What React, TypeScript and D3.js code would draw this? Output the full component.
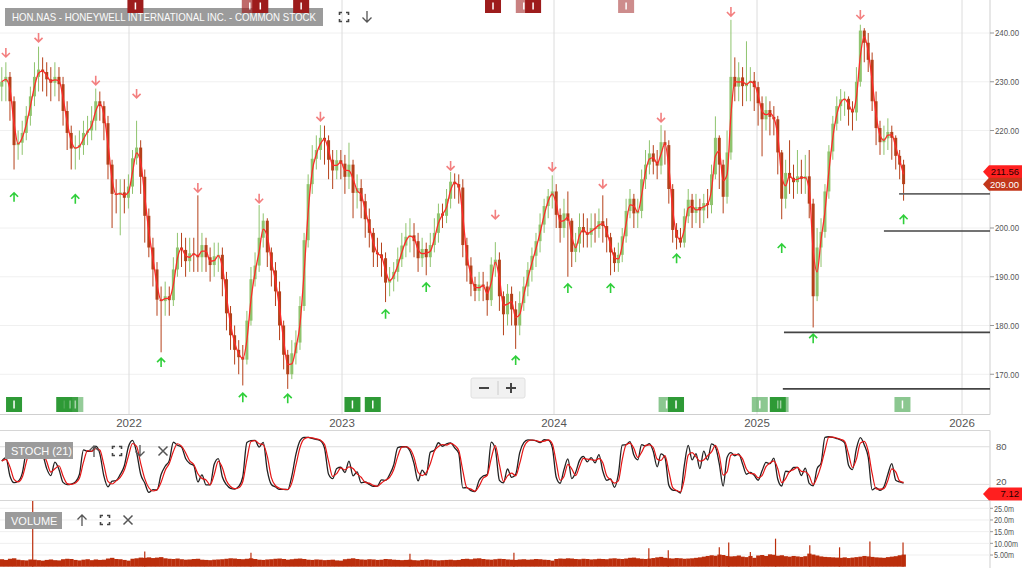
import React from "react";
import * as d3 from "d3";

// ---------- DATA (weekly bars) ----------
const firstWeek = "2021-05-28";
const firstOpen = 229;
const closes = [
  230, 231, 226, 217, 217.5, 219.5, 223, 227, 231, 232.5,
  232, 230.5, 229.8, 231, 229.5, 224, 219.5, 216.3, 216.5, 217,
  219.5, 220, 222, 226, 225, 221.5, 213, 207, 206.8, 207.3,
  206.2, 208.5, 214.3, 216.5, 210.5, 202.5, 196, 191.5, 185.3, 185,
  186, 185.2, 191.5, 196, 195.5, 193.2, 194.8, 194.5, 194, 196.5,
  194, 192.4, 194.2, 194.5, 189.5, 182.5, 178, 175, 173.5, 173,
  181, 189.5, 192.3, 198, 201.5, 195, 191.3, 187, 180, 174,
  170, 174.3, 176.5, 184, 197.5, 209, 214.2, 216, 218.5, 218,
  214, 211.8, 213.9, 213.2, 210.5, 213, 207.2, 208.2, 205.5, 201.8,
  199, 195, 194.6, 193.8, 188.8, 189.5, 191, 193.6, 196.4, 198.2,
  198.5, 197.3, 193.8, 195.7, 194, 196.5, 199, 203, 202.5, 206,
  209.5, 209, 208.3, 196.5, 192.3, 188.5, 187.1, 188.4, 188, 185.2,
  192.5, 193.5, 186, 182.3, 186.5, 183.3, 180, 184.6, 188, 191.4,
  194.3, 197.3, 200.7, 204.5, 206.5, 207.5, 202.7, 200, 203, 201.5,
  195.1, 196.8, 200.2, 199.1, 198.6, 200, 199.8, 201.4, 200.4, 198.1,
  195, 192.8, 194.5, 198.3, 203.5, 206, 203, 203.5, 210, 213,
  215.3, 213.6, 212.8, 217.6, 217, 208, 199.6, 198, 197, 202.4,
  205.8, 203.1, 204.3, 203.6, 205.1, 204.7, 211, 218.5, 213, 206.4,
  215.5, 231, 229, 230.9, 229.1, 229.8, 230.2, 228.9, 225.6, 222.3,
  224.2, 222.8, 222.3, 215.5, 206, 211.3, 210.3, 209.4, 210.6, 210.1,
  210.6, 205, 186, 196, 199.2, 207.5, 215.7, 221.4, 225, 226.4,
  226.5, 224.3, 223.7, 230, 240.5, 238, 234.5, 226, 220.5, 217.6,
  218.4, 219.7, 218.5, 214.8, 213, 209,
];
const highs = [
  233, 234, 232, 227, 220, 222, 225, 229, 234, 237.2,
  235, 234, 233, 234, 233, 231, 226, 221, 219, 220,
  222, 223, 225, 228.6, 228, 226, 223, 214, 210, 210,
  210, 211, 216, 222, 218, 212, 204, 198, 193, 188,
  189, 188, 194, 199, 199, 198, 198, 198, 206.7, 199,
  198, 196, 197, 197, 196, 191, 184, 180, 177, 176,
  183, 192, 195, 204.7, 203, 202, 196, 193, 189, 181,
  175, 177, 179, 186, 199, 211, 217, 219, 221.1, 221,
  219, 216, 216, 216, 215, 217.5, 214, 211, 210, 207,
  204, 200, 198, 197, 195, 192, 193, 196, 199, 201,
  202, 201, 199, 198, 197, 199, 202, 205, 205, 208,
  211.5, 211.2, 211, 210, 198, 194, 190, 191, 191, 189,
  194, 197.1, 195, 187, 188.5, 188, 185, 187, 190, 193,
  196, 199, 203, 206, 208, 210.8, 209, 204, 206, 207.5,
  202, 199, 203, 203, 202, 203, 203, 204, 206.7, 202,
  199, 196, 197, 200, 206, 208, 207, 206, 212, 216,
  218, 217, 216, 221.1, 220, 218, 209, 201, 200, 204,
  208, 207, 207, 206, 207, 208, 213, 222.9, 219, 214,
  220, 242.7, 235, 234, 233, 238.3, 233, 232, 230, 227,
  227, 226, 225, 223, 216, 214, 218, 213, 216, 214,
  215, 216, 206, 200, 202, 209, 217, 223, 227, 228.5,
  228, 227, 226, 233, 241.7, 241, 240, 236, 228, 222,
  221, 222.5, 221, 219, 216, 214,
];
const lows = [
  226, 226, 222, 212, 214, 215, 218, 221, 225, 228,
  228, 227, 226, 227, 226, 221, 216, 212, 212, 214,
  215, 217, 218, 220, 222, 218, 210, 200, 203, 198.5,
  203, 204, 207, 213, 207, 197, 194, 188, 182, 174.5,
  182, 182, 184, 190, 192, 190, 191, 191, 191, 191,
  191, 189, 190, 191, 186, 179, 175, 172, 170, 167.7,
  172, 180, 188, 191, 196, 192, 188, 184, 177, 171,
  167, 169, 172, 175, 183, 196, 207, 212, 214, 213,
  210, 208, 210, 210, 207, 208, 202, 204, 202, 198,
  196, 192, 192, 190, 184.8, 186, 187, 189, 192, 194,
  195, 194, 191, 192, 190.3, 192, 195, 197, 200, 201,
  204, 206, 205, 194, 189, 186, 185, 185, 185, 182,
  184, 190, 183, 178, 180, 180, 175.2, 178, 183, 186,
  189, 192, 195, 199, 202, 204, 200, 197, 198, 190,
  192, 193, 195, 196, 196, 196, 197, 198, 197, 195,
  190.3, 191, 191, 193, 197, 202, 200, 200, 202, 208,
  211, 211, 210, 211, 213, 205, 197, 195.6, 196, 196,
  201, 200, 201, 200, 201, 202, 203, 210, 208, 203,
  205, 214, 226, 226, 225, 226, 226, 224, 221, 214.7,
  220, 219, 219, 211, 201.8, 204, 207, 206, 207, 207,
  207, 202, 179.6, 185, 192, 198, 206, 214, 220, 222,
  223, 221, 220, 222, 229, 234, 232, 224, 217, 215,
  215, 216, 214, 212, 210, 205.6,
];
// typical daily volume per week, millions
const volumesM = [
  3.2, 2.9, 3.4, 3.6, 3.0, 2.8, 2.7, 3.1, 3.0, 2.8, 2.6, 2.9, 3.1, 2.8, 2.7, 3.2,
  3.4, 3.3, 2.9, 2.7, 3.0, 3.2, 2.8, 3.1, 2.9, 3.0, 3.5, 3.8, 3.3, 3.2, 2.9, 2.6,
  3.4, 3.6, 3.9, 3.8, 4.0, 3.7, 3.9, 4.1, 3.6, 3.4, 3.3, 3.5, 3.2, 3.0, 3.1, 3.3,
  3.4, 3.0, 2.9, 2.8, 3.0, 3.1, 3.2, 3.4, 3.6, 3.5, 3.3, 3.2, 3.4, 3.6, 3.3, 3.0,
  2.9, 3.1, 3.2, 3.4, 3.5, 3.3, 3.0, 3.2, 3.4, 3.5, 3.3, 3.0, 2.9, 3.1, 3.0, 2.8,
  2.9, 3.0, 2.7, 2.6,
  3.2, 3.4, 3.6, 3.3, 3.1, 3.0, 3.2, 3.1, 2.9, 3.0, 3.3, 3.2, 3.0, 2.9, 2.8, 2.9,
  3.0, 2.8, 2.7, 2.9, 3.1, 3.0, 2.8, 2.7, 2.8, 2.9, 3.0, 2.8, 2.9, 3.3, 3.4, 3.2,
  3.5, 3.6, 3.3, 3.1, 3.0, 3.2, 3.4, 3.3, 3.1, 3.0, 2.9, 3.1, 3.2, 3.0, 3.1, 3.3,
  3.2, 3.0, 2.9, 2.6,
  3.3, 3.5, 3.4, 3.6, 3.5, 3.3, 3.2, 3.4, 3.3, 3.1, 3.2, 3.4, 3.3, 3.2, 3.5, 3.6,
  3.4, 3.3, 3.5, 3.8, 3.9, 3.6, 3.4, 3.3, 3.5, 3.7, 4.0, 4.2, 3.8, 3.6, 3.5, 3.7,
  3.6, 3.4, 3.5, 3.6, 3.8, 4.0, 4.3, 4.6, 4.9, 4.7, 5.2, 5.0, 4.6, 4.4, 4.5, 4.8,
  4.3, 4.1, 4.6, 3.8,
  4.8, 5.0, 4.6, 5.3, 5.1, 4.7, 4.9, 4.5, 4.3, 4.6, 4.4, 4.2, 4.5, 5.6, 5.2, 4.8,
  4.4, 4.2, 4.1, 4.0, 3.9, 3.8, 4.0, 3.7, 3.9, 4.1, 4.3, 4.6, 4.4, 4.2, 4.0, 3.9,
  3.8, 4.1, 4.3, 4.5, 4.9, 5.2,
];
const volSpikeDates = [
  "2021-07-20", "2022-01-28", "2022-07-29", "2023-04-28", "2023-10-24",
  "2024-06-20", "2024-07-25", "2024-10-25", "2024-11-11", "2024-12-20",
  "2025-02-03", "2025-04-05", "2025-05-28", "2025-07-21", "2025-09-18",
];
const volSpikeValues = [30, 6.5, 6.0, 5.5, 6.0, 7.9, 7.0, 8.3, 10.4, 6.3, 12.0, 9.2, 8.3, 10.8, 10.4];

const sellSignalWeeks = [1, 9, 23, 33, 48, 63, 78, 110, 121, 135, 148, 163, 181, 214];
const sellSignalLevels = [235.9, 239.0, 230.2, 227.5, 208.2, 206.0, 222.8, 212.7, 202.7, 212.5, 209.0, 222.6, 244.3, 243.7];
const buySignalWeeks = [3, 18, 39, 59, 70, 94, 104, 126, 139, 150, 167, 194, 202, 225];
const buySignalLevels = [206.4, 206.0, 172.5, 165.3, 165.1, 182.4, 187.9, 172.9, 187.7, 187.7, 193.8, 195.9, 177.4, 201.8];

const supportStartDates = ["2025-09-11", "2025-08-15", "2025-02-18", "2025-02-16"];
const supportLevels = [207.0, 199.4, 178.6, 167.0];

const topEventDates = ["2022-01-12", "2022-07-27", "2022-08-14", "2022-10-23", "2023-09-18", "2023-11-10", "2023-11-26", "2024-05-10"];
const topEventAlpha = [1, 0.65, 1, 1, 1, 0.55, 1, 0.5];
const bottomEventDates = ["2021-06-18", "2021-09-12", "2021-09-22", "2021-10-01", "2023-01-19", "2023-02-23", "2024-07-22", "2024-08-08", "2025-01-06", "2025-02-07", "2025-02-12", "2025-09-17"];
const bottomEventAlpha = [1, 1, 0.85, 0.5, 1, 1, 0.55, 1, 0.55, 1, 0.55, 0.55];

const yearTicks = [2022, 2023, 2024, 2025, 2026];
const priceTicks = [170, 180, 190, 200, 210, 220, 230, 240];
const stochTicks = [20, 80];
const volumeTicks = [5, 10, 15, 20, 25];
const volumeTickLabels = ["5.00m", "10.00m", "15.0m", "20.0m", "25.0m"];

const lastMA = 211.56;
const lastClose = 209.0;
const lastStoch = 7.12;
const stochPeriodWeeks = 4;
const title = "HON.NAS - HONEYWELL INTERNATIONAL INC. - COMMON STOCK";

// ---------- COMPONENT ----------
const FONT = "'Liberation Sans', Arial, sans-serif";
const AX = 990;

function ExpandIcon({ x, y }: { x: number; y: number }) {
  const s = 4.5, c = 2.5;
  const d = [
    `M${x - s},${y - s + c}V${y - s}H${x - s + c}`,
    `M${x + s - c},${y - s}H${x + s}V${y - s + c}`,
    `M${x + s},${y + s - c}V${y + s}H${x + s - c}`,
    `M${x - s + c},${y + s}H${x - s}V${y + s - c}`,
  ].join("");
  return <path d={d} fill="none" stroke="#444" strokeWidth={1.6} />;
}
function ArrowIcon({ x, y, up }: { x: number; y: number; up: boolean }) {
  const d = up
    ? `M${x},${y + 6}V${y - 5}M${x - 4.5},${y - 0.5}L${x},${y - 5}L${x + 4.5},${y - 0.5}`
    : `M${x},${y - 6}V${y + 5}M${x - 4.5},${y + 0.5}L${x},${y + 5}L${x + 4.5},${y + 0.5}`;
  return <path d={d} fill="none" stroke="#555" strokeWidth={1.3} />;
}
function CloseIcon({ x, y }: { x: number; y: number }) {
  return <path d={`M${x - 4.5},${y - 4.5}L${x + 4.5},${y + 4.5}M${x + 4.5},${y - 4.5}L${x - 4.5},${y + 4.5}`} stroke="#555" strokeWidth={1.5} />;
}
function PriceTag({ y, text, bg, fg }: { y: number; text: string; bg: string; fg: string }) {
  const h = 13;
  const d = `M983,${y}L989,${y - h / 2}H1022V${y + h / 2}H989Z`;
  return (
    <g>
      <path d={d} fill={bg} />
      <text x={1019} y={y + 3.5} textAnchor="end" fontSize={9.5} fontFamily={FONT} fill={fg}>{text}</text>
    </g>
  );
}
function AxisLabel({ y, text, x0 = 995, size = 9.5 }: { y: number; text: string; x0?: number; size?: number }) {
  return (
    <text x={x0} y={y + 3.3} fontSize={size} fill="#555" textLength={text.length * 4.0} lengthAdjust="spacingAndGlyphs">{text}</text>
  );
}

export default function App() {
  const parse = d3.timeParse("%Y-%m-%d");
  const start = parse(firstWeek) as Date;
  const dates = closes.map((_, i) => d3.timeDay.offset(start, 7 * i));
  const opens = closes.map((_, i) => (i === 0 ? firstOpen : closes[i - 1]));

  const x = d3.scaleTime()
    .domain(yearTicks.map((y) => new Date(y, 0, 1)))
    .range([129, 342, 554, 757, 962]);
  const y = d3.scaleLinear().domain([170, 240]).range([374.25, 33]);
  const ys = d3.scaleLinear().domain([0, 100]).range([496.9, 434.2]);
  const yv = d3.scaleLinear().domain([0, 25]).range([566.7, 508.3]);

  // moving average (2 weekly closes ~ 10 sessions)
  const ma = closes.map((_, i) => d3.mean(closes.slice(Math.max(0, i - 1), i + 1)) as number);
  const maLine = d3.line<number>().x((_, i) => x(dates[i])).y((v) => y(v)).curve(d3.curveMonotoneX);

  // stochastic
  const k = closes.map((c, i) => {
    const s = Math.max(0, i - stochPeriodWeeks + 1);
    const hh = d3.max(highs.slice(s, i + 1)) as number;
    const ll = d3.min(lows.slice(s, i + 1)) as number;
    return hh === ll ? 50 : ((c - ll) / (hh - ll)) * 100;
  });
  const dline = k.map((_, i) => d3.mean(k.slice(Math.max(0, i - 1), i + 1)) as number);
  const stLine = d3.line<number>().x((_, i) => x(dates[i])).y((v) => ys(v)).curve(d3.curveMonotoneX);

  const tagYs = [y(lastMA), y(lastClose)];
  const visiblePriceTicks = priceTicks.filter((t) => tagYs.every((ty) => Math.abs(y(t) - ty) > 8));

  const barW = 3;

  return (
    <svg width={1024} height={568} style={{ position: "absolute", left: 0, top: 0, background: "#fff" }} fontFamily={FONT}>
      <defs>
        <clipPath id="pc"><rect x={0} y={0} width={AX} height={414} /></clipPath>
        <clipPath id="sc"><rect x={0} y={431} width={AX} height={69} /></clipPath>
        <clipPath id="vc"><rect x={0} y={501} width={AX} height={67} /></clipPath>
      </defs>

      {/* price grid */}
      {priceTicks.map((t) => (
        <line key={t} x1={0} x2={AX} y1={y(t)} y2={y(t)} stroke="#f0f0f0" />
      ))}
      {yearTicks.map((yr) => (
        <line key={yr} x1={x(new Date(yr, 0, 1))} x2={x(new Date(yr, 0, 1))} y1={0} y2={414} stroke="#dcdcdc" />
      ))}
      <line x1={0} x2={AX} y1={414.5} y2={414.5} stroke="#cfcfcf" />
      <line x1={AX} x2={AX} y1={0} y2={414.5} stroke="#cfcfcf" />

      {/* price axis */}
      {priceTicks.map((t) => (
        <line key={t} x1={AX} x2={AX + 4} y1={y(t)} y2={y(t)} stroke="#999" />
      ))}
      {visiblePriceTicks.map((t) => (
        <AxisLabel key={t} y={y(t)} text={t.toFixed(2)} />
      ))}
      {yearTicks.map((yr) => (
        <text key={yr} x={x(new Date(yr, 0, 1))} y={427} fontSize={11.5} fill="#555" textAnchor="middle">{yr}</text>
      ))}

      {/* bars */}
      <g clipPath="url(#pc)">
        {closes.map((c, i) => {
          const o = opens[i];
          const up = c >= o;
          const col = up ? "#8fc46e" : "#b5401a";
          const cx = x(dates[i]);
          const top = y(Math.max(o, c));
          const bot = y(Math.min(o, c));
          return (
            <g key={i}>
              <line x1={cx} x2={cx} y1={y(highs[i])} y2={y(lows[i])} stroke={col} strokeWidth={1} />
              <rect x={cx - barW / 2} y={top} width={barW} height={Math.max(1, bot - top)} fill={col} />
            </g>
          );
        })}
        <path d={maLine(ma) || ""} fill="none" stroke="#ff2a2a" strokeWidth={1.3} />

        {/* support lines */}
        {supportLevels.map((lv, i) => (
          <line key={i} x1={x(parse(supportStartDates[i]) as Date)} x2={AX} y1={y(lv)} y2={y(lv)} stroke={i === 0 ? "#666" : "#444"} strokeWidth={1.6} />
        ))}

        {/* signals */}
        {sellSignalWeeks.map((w, i) => {
          const cx = x(dates[w]);
          const cy = y(sellSignalLevels[i]);
          return (
            <path key={"s" + i} d={`M${cx},${cy - 5}V${cy + 4}M${cx - 4},${cy}L${cx},${cy + 4}L${cx + 4},${cy}`} fill="none" stroke="#f37f7f" strokeWidth={1.6} />
          );
        })}
        {buySignalWeeks.map((w, i) => {
          const cx = x(dates[w]);
          const cy = y(buySignalLevels[i]);
          return (
            <path key={"b" + i} d={`M${cx},${cy + 5}V${cy - 4}M${cx - 4},${cy}L${cx},${cy - 4}L${cx + 4},${cy}`} fill="none" stroke="#2fcf3a" strokeWidth={1.6} />
          );
        })}
      </g>

      {/* bottom event markers */}
      {bottomEventDates.map((d, i) => {
        const cx = x(parse(d) as Date);
        return (
          <g key={d} opacity={bottomEventAlpha[i]}>
            <rect x={cx - 8} y={397} width={16} height={15} fill="#2e9a36" />
            <rect x={cx - 0.75} y={400.5} width={1.5} height={8} fill="#fff" />
          </g>
        );
      })}

      {/* title */}
      <rect x={5} y={8} width={318} height={18} fill="#9b9b9b" />
      <text x={12} y={21} fontSize={11.5} fill="#fbfbfb" textLength={304} lengthAdjust="spacingAndGlyphs">{title}</text>
      <ExpandIcon x={344} y={17} />
      <ArrowIcon x={367} y={17} up={false} />

      {/* top event markers */}
      {topEventDates.map((d, i) => {
        const cx = x(parse(d) as Date);
        return (
          <g key={d} opacity={topEventAlpha[i]}>
            <rect x={cx - 8} y={0} width={16} height={13} fill="#9d1c1c" />
            <rect x={cx - 0.75} y={2.5} width={1.5} height={7} fill="#fff" />
          </g>
        );
      })}

      {/* zoom control */}
      <rect x={471} y={378} width={54} height={20} rx={2} fill="#f1f1f1" stroke="#e0e0e0" />
      <line x1={498} x2={498} y1={381} y2={395} stroke="#ccc" />
      <line x1={479} x2={489} y1={388} y2={388} stroke="#444" strokeWidth={2} />
      <line x1={506} x2={516} y1={388} y2={388} stroke="#444" strokeWidth={2} />
      <line x1={511} x2={511} y1={383} y2={393} stroke="#444" strokeWidth={2} />

      {/* last price tags */}
      <PriceTag y={y(lastMA)} text={lastMA.toFixed(2)} bg="#ff1f1f" fg="#2a0000" />
      <PriceTag y={y(lastClose)} text={lastClose.toFixed(2)} bg="#c2361a" fg="#ffffff" />

      {/* STOCH panel */}
      <line x1={0} x2={AX} y1={430.5} y2={430.5} stroke="#d6d6d6" />
      <line x1={0} x2={AX} y1={500.5} y2={500.5} stroke="#d6d6d6" />
      <line x1={AX} x2={AX} y1={430.5} y2={500.5} stroke="#cfcfcf" />
      {stochTicks.map((t) => (
        <g key={t}>
          <line x1={0} x2={AX} y1={ys(t)} y2={ys(t)} stroke="#dedede" />
          <text x={996} y={ys(t) + (t === 20 ? 1 : 3.3)} fontSize={9.5} fill="#555">{t}</text>
        </g>
      ))}
      <g clipPath="url(#sc)">
        <path d={stLine(k) || ""} fill="none" stroke="#222" strokeWidth={1.3} />
        <path d={stLine(dline) || ""} fill="none" stroke="#e41515" strokeWidth={1.2} />
      </g>
      <rect x={5} y={442} width={68} height={17} fill="#9b9b9b" />
      <text x={11} y={455} fontSize={11} fill="#fbfbfb">STOCH (21)</text>
      <ArrowIcon x={94} y={451} up={true} />
      <ExpandIcon x={117} y={451} />
      <ArrowIcon x={140} y={451} up={false} />
      <CloseIcon x={163} y={451} />
      <PriceTag y={ys(lastStoch) + 1.5} text={lastStoch.toFixed(2)} bg="#ff1f1f" fg="#2a0000" />

      {/* VOLUME panel */}
      <line x1={AX} x2={AX} y1={500.5} y2={568} stroke="#cfcfcf" />
      {volumeTicks.map((t, i) => (
        <g key={t}>
          <line x1={0} x2={AX} y1={yv(t)} y2={yv(t)} stroke="#efefef" />
          <line x1={AX} x2={AX + 3} y1={yv(t)} y2={yv(t)} stroke="#999" />
          <AxisLabel y={yv(t)} text={volumeTickLabels[i]} x0={994} size={9} />
        </g>
      ))}
      <g clipPath="url(#vc)">
        {volumesM.map((v, i) => {
          const cx = x(dates[i]);
          const w = i < volumesM.length - 1 ? x(dates[i + 1]) - cx : 4;
          return <rect key={i} x={cx - w / 2} y={yv(v)} width={w + 0.3} height={yv(0) - yv(v)} fill="#bb2e0c" />;
        })}
        {volSpikeDates.map((d, i) => {
          const cx = x(parse(d) as Date);
          return <line key={d} x1={cx} x2={cx} y1={yv(0)} y2={yv(volSpikeValues[i])} stroke="#bb2e0c" strokeWidth={1.2} />;
        })}
      </g>
      <rect x={5} y={512} width={57} height={17} fill="#9b9b9b" />
      <text x={11} y={525} fontSize={11} fill="#fbfbfb">VOLUME</text>
      <ArrowIcon x={82} y={520} up={true} />
      <ExpandIcon x={105} y={520} />
      <CloseIcon x={128} y={520} />
    </svg>
  );
}
